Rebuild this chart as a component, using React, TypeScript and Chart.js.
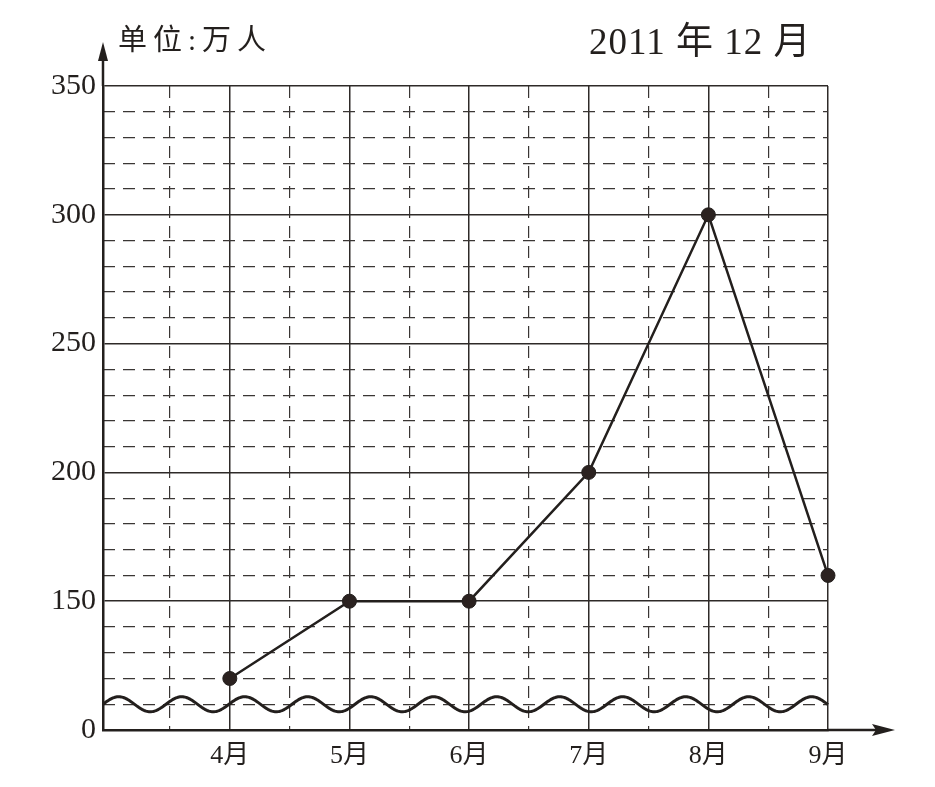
import React, { useEffect, useRef } from "react";
import { Chart, registerables } from "chart.js";

Chart.register(...registerables);

const months: number[] = [4, 5, 6, 7, 8, 9];
const visitors: number[] = [120, 150, 150, 200, 300, 160];
const yTickValues: number[] = [100, 150, 200, 250, 300, 350];
const yTickLabels: string[] = ["0", "150", "200", "250", "300", "350"];
const halfMonths: number[] = [3.5, 4.5, 5.5, 6.5, 7.5, 8.5];
const unitLabel = "单位:万人";
const dateLabel = "2011 年 12 月";

const FONT = "'Liberation Serif', 'Noto Sans CJK SC', serif";
const INK = "#231f1d";

const decorPlugin = {
  id: "decor",
  afterDraw(chart: any) {
    const { ctx, chartArea, scales } = chart;
    const ys = scales.y;
    const left = chartArea.left;
    const right = chartArea.right;
    const bottom = chartArea.bottom;
    ctx.save();
    // wave (axis break)
    const yc = ys.getPixelForValue(110);
    const period = 63;
    ctx.beginPath();
    for (let px = left; px <= right; px += 1) {
      const py = yc - 7.5 * Math.sin((2 * Math.PI * (px - left)) / period);
      if (px === left) ctx.moveTo(px, py);
      else ctx.lineTo(px, py);
    }
    ctx.strokeStyle = INK;
    ctx.lineWidth = 3;
    ctx.stroke();
    // y axis extension + arrow
    ctx.lineWidth = 2.5;
    ctx.beginPath();
    ctx.moveTo(left, chartArea.top);
    ctx.lineTo(left, 55);
    ctx.stroke();
    ctx.beginPath();
    ctx.moveTo(left, 42);
    ctx.lineTo(left - 5, 61);
    ctx.lineTo(left + 5, 61);
    ctx.closePath();
    ctx.fillStyle = INK;
    ctx.fill();
    // x axis extension + arrow
    ctx.beginPath();
    ctx.moveTo(right, bottom);
    ctx.lineTo(880, bottom);
    ctx.stroke();
    ctx.beginPath();
    ctx.moveTo(895, bottom);
    ctx.lineTo(872, bottom - 6);
    ctx.lineTo(876, bottom);
    ctx.lineTo(872, bottom + 6);
    ctx.closePath();
    ctx.fill();
    // texts
    ctx.fillStyle = INK;
    ctx.textBaseline = "middle";
    ctx.textAlign = "left";
    ctx.font = `29px ${FONT}`;
    (ctx as any).letterSpacing = "6px";
    ctx.fillText(unitLabel, 118, 42);
    ctx.font = `37px ${FONT}`;
    (ctx as any).letterSpacing = "1px";
    ctx.fillText(dateLabel, 589, 44);
    ctx.restore();
  },
};

export default function App() {
  const ref = useRef<HTMLCanvasElement | null>(null);
  useEffect(() => {
    if (!ref.current) return;
    const chart = new Chart(ref.current, {
      type: "line",
      data: {
        datasets: [
          {
            data: months.map((m, i) => ({ x: m, y: visitors[i] })),
            borderColor: INK,
            borderWidth: 2.5,
            pointRadius: 7,
            pointBackgroundColor: "#2b2220",
            pointBorderColor: INK,
            pointBorderWidth: 1,
            tension: 0,
            clip: false as any,
          },
        ],
      },
      options: {
        responsive: false,
        animation: false,
        layout: { padding: { top: 86, right: 107, left: 0, bottom: 0 } },
        plugins: { legend: { display: false }, tooltip: { enabled: false } },
        scales: {
          x: {
            type: "linear",
            min: 2.94,
            max: 9,
            afterBuildTicks: (s: any) => {
              s.ticks = months.map((v) => ({ value: v }));
            },
            afterFit: (s: any) => {
              s.height = 57;
            },
            ticks: {
              padding: 11,
              color: INK,
              font: { family: FONT, size: 26 },
              callback: (v: any) => `${v}月`,
            },
            grid: { color: "#2e2a28", lineWidth: 1.5, drawTicks: false },
            border: { color: INK, width: 2.5 },
          },
          x2: {
            type: "linear",
            position: "bottom",
            min: 2.94,
            max: 9,
            afterBuildTicks: (s: any) => {
              s.ticks = halfMonths.map((v) => ({ value: v }));
            },
            ticks: { display: false },
            afterFit: (s: any) => {
              s.height = 0;
            },
            grid: { drawTicks: false, lineWidth: 1.2, color: "#3a3634" },
            border: { display: false, dash: [12, 8] },
          },
          y: {
            type: "linear",
            min: 100,
            max: 350,
            afterBuildTicks: (s: any) => {
              s.ticks = yTickValues.map((v) => ({ value: v }));
            },
            afterFit: (s: any) => {
              s.width = 103;
            },
            ticks: {
              padding: 7,
              color: INK,
              font: { family: FONT, size: 30 },
              callback: (v: any) => yTickLabels[yTickValues.indexOf(v)] ?? "",
            },
            grid: { color: "#2e2a28", lineWidth: 1.5, drawTicks: false },
            border: { color: INK, width: 2.5 },
          },
          y2: {
            type: "linear",
            position: "left",
            min: 100,
            max: 350,
            ticks: { display: false, stepSize: 10 },
            afterFit: (s: any) => {
              s.width = 0;
            },
            grid: {
              drawTicks: false,
              lineWidth: 1.2,
              color: (c: any) =>
                (c.tick?.value ?? 0) % 50 === 0 ? "rgba(0,0,0,0)" : "#3a3634",
            },
            border: { display: false, dash: [12, 8] },
          },
        },
      } as any,
      plugins: [decorPlugin],
    });
    return () => chart.destroy();
  }, []);
  return (
    <div style={{ position: "absolute", left: 0, top: 0, width: 935, height: 787, background: "#fff" }}>
      <canvas ref={ref} width={935} height={787} style={{ width: 935, height: 787 }} />
    </div>
  );
}
